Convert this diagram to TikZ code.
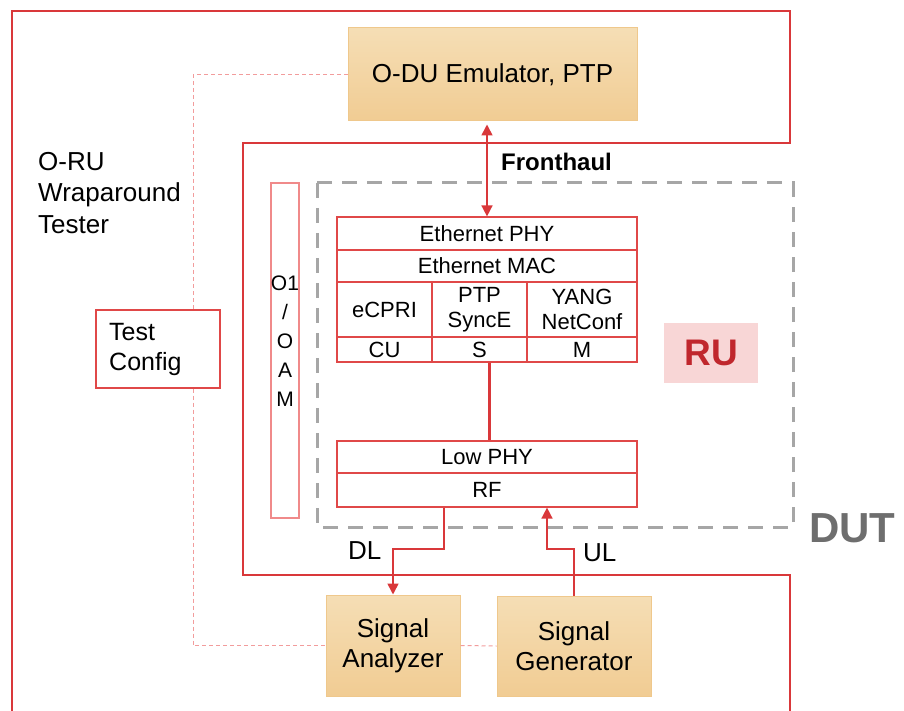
\documentclass[tikz,border=0pt]{standalone}
\usepackage{fontspec}
\setmainfont{Liberation Sans}
\usetikzlibrary{arrows.meta}
\definecolor{redline}{HTML}{D9383A}
\definecolor{cellred}{HTML}{E04848}
\definecolor{lightred}{HTML}{F08A8A}
\definecolor{pinkdash}{HTML}{F29C9C}
\definecolor{boxtop}{HTML}{F5DEB5}
\definecolor{boxbot}{HTML}{F1CC93}
\definecolor{boxborder}{HTML}{EFC88C}
\definecolor{dashgray}{HTML}{A6A6A6}
\definecolor{rufill}{HTML}{F8D6D6}
\definecolor{rutext}{HTML}{C0272D}
\definecolor{dutgray}{HTML}{6E6E6E}
\tikzset{
  orangebox/.style={rectangle, draw=boxborder, line width=1pt, top color=boxtop, bottom color=boxbot,
    inner sep=0pt, align=center, font=\fontsize{26}{30}\selectfont},
  cell/.style={rectangle, draw=cellred, line width=1.2pt, inner sep=0pt, align=center,
    font=\fontsize{22}{25}\selectfont},
  frame/.style={draw=redline, line width=2pt},
  conn/.style={draw=redline, line width=1.6pt},
  tip/.style={-{Triangle[length=11pt,width=11pt]}},
  pinkline/.style={draw=pinkdash, line width=1pt, dash pattern=on 4pt off 3pt},
  lbl/.style={inner sep=0pt, font=\fontsize{26}{31}\selectfont}
}
\begin{document}
\begin{tikzpicture}[x=1pt,y=-1pt]
\useasboundingbox (0,0) rectangle (904,711);
% outer tester frame
\draw[frame] (12,711) -- (12,11) -- (790,11) -- (790,143) -- (243,143) -- (243,575) -- (790,575) -- (790,711);
% RU dashed box
\draw[draw=dashgray, line width=3pt, dash pattern=on 15pt off 10pt] (317,183) rectangle (793,527);
% O-DU
\node[orangebox, minimum width=289pt, minimum height=93pt] (odu) at (492.5,74.5) {O-DU Emulator, PTP};
% O1/OAM
\node[rectangle, draw=lightred, line width=1.2pt, minimum width=28pt, minimum height=335pt, inner sep=0pt] (oam) at (285,350.5) {};
\node[inner sep=0pt, font=\fontsize{21}{29}\selectfont, align=center, anchor=north] (oamtext) at (285,276) {O1\\/\\O\\A\\M};
% stack
\node[cell, minimum width=300pt, minimum height=33pt] (ephy) at (487,233.5) {Ethernet PHY};
\node[cell, minimum width=300pt, minimum height=32pt] (emac) at (487,266) {Ethernet MAC};
\node[cell, minimum width=95pt, minimum height=55pt] (ecpri) at (384.5,309.5) {eCPRI};
\node[cell, minimum width=95pt, minimum height=55pt] (ptp) at (479.5,309.5) {PTP\\SyncE};
\node[cell, minimum width=110pt, minimum height=55pt] (yang) at (582,309.5) {YANG\\NetConf};
\node[cell, minimum width=95pt, minimum height=25pt] (cu) at (384.5,349.5) {CU};
\node[cell, minimum width=95pt, minimum height=25pt] (s) at (479.5,349.5) {S};
\node[cell, minimum width=110pt, minimum height=25pt] (m) at (582,349.5) {M};
\node[cell, minimum width=300pt, minimum height=32pt] (lowphy) at (487,457) {Low PHY};
\node[cell, minimum width=300pt, minimum height=34pt] (rf) at (487,490) {RF};
\draw[draw=redline, line width=3pt] (s.south -| lowphy.north) ++(2,0) coordinate (stop) -- (lowphy.north -| stop);
% RU label
\node[rectangle, fill=rufill, minimum width=94pt, minimum height=60pt, inner sep=0pt,
  text=rutext, font=\bfseries\fontsize{37}{40}\selectfont] (ru) at (711,353) {RU};
% DUT label
\node[anchor=west, inner sep=0pt, text=dutgray, font=\bfseries\fontsize{42}{44}\selectfont] (dut) at (809,528) {DUT};
% Fronthaul
\draw[conn, {Triangle[length=11pt,width=11pt]}-{Triangle[length=11pt,width=11pt]}] (odu.south -| ephy.north) ++(0,3) -- (ephy.north);
\node[anchor=west, inner sep=0pt, font=\bfseries\fontsize{24}{28}\selectfont] (fh) at (501,162) {Fronthaul};
% signal boxes
\node[orangebox, minimum width=134pt, minimum height=101pt] (sa) at (393,645.5) {Signal\\Analyzer};
\node[orangebox, minimum width=154pt, minimum height=100pt] (sg) at (574,646) {Signal\\Generator};
% DL / UL
\coordinate (dlx) at (444,0);
\coordinate (ulx) at (547,0);
\draw[conn, tip] (rf.south -| dlx) |- (393,549) -- (sa.north);
\draw[conn, tip] (sg.north) |- (547,549) -- (rf.south -| ulx);
\node[lbl, anchor=west] (dl) at (348,551) {DL};
\node[lbl, anchor=west] (ul) at (583,553) {UL};
% Test config
\node[rectangle, draw=cellred, line width=1.2pt, minimum width=124pt, minimum height=78pt, inner sep=0pt] (tc) at (158,349) {};
\node[anchor=west, align=left, inner sep=0pt, font=\fontsize{25}{30}\selectfont] (tctext) at (109,349) {Test\\Config};
% tester label
\node[anchor=north west, align=left, inner sep=0pt, font=\fontsize{26}{31.5}\selectfont] (tester) at (38,152) {O-RU\\Wraparound\\Tester};
% pink dashed lines
\draw[pinkline] (odu.west) -| (tc.north -| 193,0);
\draw[pinkline] (tc.south -| 193,0) |- (sa.west);
\draw[pinkline] (sa.east) -- (sg.west);
\end{tikzpicture}
\end{document}
